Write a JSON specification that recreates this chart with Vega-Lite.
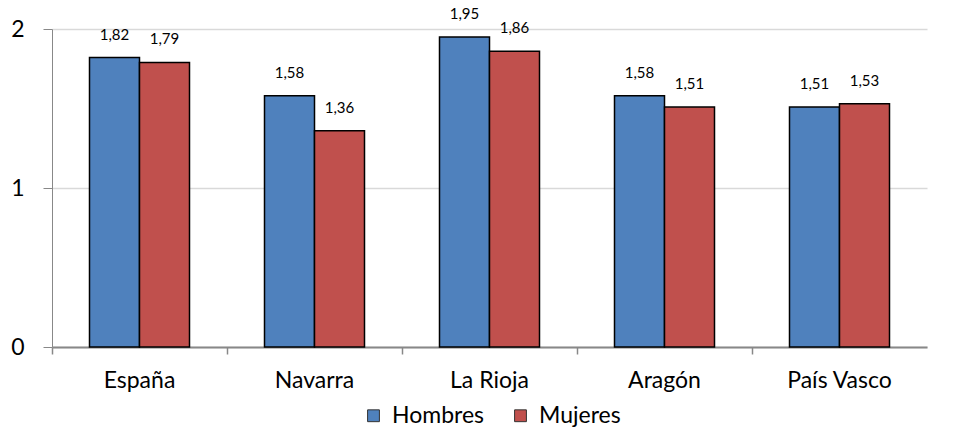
{
  "$schema": "https://vega.github.io/schema/vega-lite/v6.json",
  "width": 875,
  "height": 318,
  "autosize": {"type": "none"},
  "padding": {"left": 52, "top": 29, "right": 27, "bottom": 101},
  "background": "white",
  "config": {
    "locale": {"number": {"decimal": ",", "thousands": ".", "grouping": [3], "currency": ["", " €"]}},
    "view": {"stroke": null},
    "font": "Lato",
    "axis": {"labelFont": "Lato", "labelColor": "#000000"},
    "legend": {"labelFont": "Lato"}
  },
  "data": {
    "values": [
      {"region": "España", "sexo": "Hombres", "valor": 1.82},
      {"region": "España", "sexo": "Mujeres", "valor": 1.79},
      {"region": "Navarra", "sexo": "Hombres", "valor": 1.58},
      {"region": "Navarra", "sexo": "Mujeres", "valor": 1.36},
      {"region": "La Rioja", "sexo": "Hombres", "valor": 1.95},
      {"region": "La Rioja", "sexo": "Mujeres", "valor": 1.86},
      {"region": "Aragón", "sexo": "Hombres", "valor": 1.58},
      {"region": "Aragón", "sexo": "Mujeres", "valor": 1.51},
      {"region": "País Vasco", "sexo": "Hombres", "valor": 1.51},
      {"region": "País Vasco", "sexo": "Mujeres", "valor": 1.53}
    ]
  },
  "encoding": {
    "x": {
      "field": "region",
      "type": "nominal",
      "sort": null,
      "scale": {"paddingInner": 0, "paddingOuter": 0},
      "axis": {
        "title": null,
        "labelAngle": 0,
        "labelFontSize": 23,
        "labelPadding": 15,
        "bandPosition": 0,
        "domainColor": "#888888",
        "domainWidth": 2,
        "tickColor": "#888888",
        "tickWidth": 1.5,
        "tickSize": 7
      }
    },
    "xOffset": {
      "field": "sexo",
      "type": "nominal",
      "scale": {"paddingInner": 0, "paddingOuter": 0.75}
    },
    "y": {
      "field": "valor",
      "type": "quantitative",
      "scale": {"domain": [0, 2], "nice": false},
      "axis": {
        "title": null,
        "values": [0, 1, 2],
        "format": ".0f",
        "labelOverlap": false,
        "labelFontSize": 23,
        "labelPadding": 19,
        "tickSize": 9,
        "tickColor": "#888888",
        "domainColor": "#888888",
        "grid": true,
        "gridColor": "#d9d9d9",
        "gridWidth": 1.5
      }
    }
  },
  "layer": [
    {
      "mark": {"type": "bar", "stroke": "#000000", "strokeWidth": 1.5},
      "encoding": {
        "color": {
          "field": "sexo",
          "type": "nominal",
          "scale": {"domain": ["Hombres", "Mujeres"], "range": ["#4F81BD", "#C0504D"]},
          "legend": {
            "title": null,
            "orient": "none",
            "direction": "horizontal",
            "legendX": 310,
            "legendY": 375,
            "symbolType": "square",
            "symbolSize": 140,
            "symbolStrokeColor": "#333333",
            "symbolStrokeWidth": 1,
            "labelFontSize": 23,
            "labelColor": "#000000",
            "columnPadding": 24,
            "labelOffset": 7
          }
        }
      }
    },
    {
      "mark": {"type": "text", "baseline": "bottom", "dy": -15, "fontSize": 15, "color": "#000000"},
      "encoding": {
        "text": {"field": "valor", "type": "quantitative", "format": ".2f"}
      }
    }
  ]
}
